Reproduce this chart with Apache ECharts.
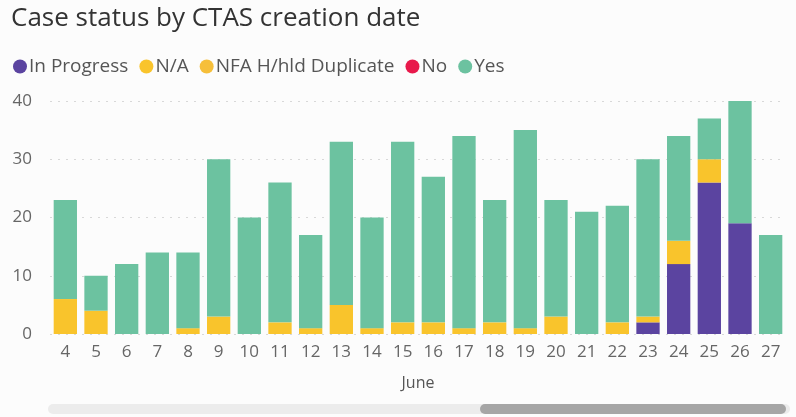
<!DOCTYPE html>
<html>
<head>
<meta charset="utf-8">
<script src="https://cdn.jsdelivr.net/npm/echarts@6/dist/echarts.min.js"></script>
<style>
html,body{margin:0;padding:0;background:#fcfcfc;}
#chart{width:796px;height:417px;}
</style>
</head>
<body>
<div id="chart"></div>
<script>
const categories = ['4','5','6','7','8','9','10','11','12','13','14','15','16','17','18','19','20','21','22','23','24','25','26','27'];
const inProgress = [0,0,0,0,0,0,0,0,0,0,0,0,0,0,0,0,0,0,0,2,12,26,19,0];
const na         = [6,4,0,0,1,3,0,2,1,5,1,2,2,1,2,1,3,0,2,1,4,4,0,0];
const nfaDup     = [0,0,0,0,0,0,0,0,0,0,0,0,0,0,0,0,0,0,0,0,0,0,0,0];
const no         = [0,0,0,0,0,0,0,0,0,0,0,0,0,0,0,0,0,0,0,0,0,0,0,0];
const yes        = [17,6,12,14,13,27,20,24,16,28,19,31,25,33,21,34,20,21,20,27,18,7,21,17];
const yTicks = [0,10,20,30,40];
const monthLabel = 'June';

const font = '"Open Sans", "Noto Sans", sans-serif';
const chart = echarts.init(document.getElementById('chart'));
function s(name, data, color){
  return {name, type:'bar', stack:'t', data, itemStyle:{color}, barCategoryGap:'24%', emphasis:{disabled:true}};
}
chart.setOption({
  backgroundColor:'#fcfcfc',
  animation:false,
  title:{text:'Case status by CTAS creation date', left:6, top:1,
    textStyle:{fontFamily:font, fontSize:26, fontWeight:'normal', color:'#333'}},
  legend:{left:8, top:52, icon:'circle', itemWidth:14, itemHeight:14, itemGap:11,
    textStyle:{fontFamily:font, fontSize:19, color:'#555', padding:[0,0,0,-3]},
    data:['In Progress','N/A','NFA H/hld Duplicate','No','Yes']},
  grid:{left:50, right:10, top:101, bottom:83},
  xAxis:{type:'category', data:categories, axisTick:{show:false}, axisLine:{show:false},
    axisLabel:{fontFamily:font, fontSize:17, color:'#666', margin:10},
    name:monthLabel, nameLocation:'middle', nameGap:41,
    nameTextStyle:{fontFamily:font, fontSize:16, color:'#555'}},
  yAxis:{type:'value', min:yTicks[0], max:yTicks[yTicks.length-1], interval:10,
    axisLabel:{fontFamily:font, fontSize:17, color:'#666', margin:18},
    splitLine:{lineStyle:{color:'#d8d8d8', type:[2,6], width:1}}},
  graphic:[
    {type:'rect', shape:{x:48, y:404, width:742, height:10, r:5}, style:{fill:'#ececec'}},
    {type:'rect', shape:{x:480, y:404, width:306, height:10, r:5}, style:{fill:'#a6a6a6'}}
  ],
  series:[
    s('In Progress', inProgress, '#5b44a0'),
    s('N/A', na, '#f9c42c'),
    s('NFA H/hld Duplicate', nfaDup, '#f6bf3a'),
    s('No', no, '#e8194b'),
    s('Yes', yes, '#6cc2a0')
  ]
});
</script>
</body>
</html>
